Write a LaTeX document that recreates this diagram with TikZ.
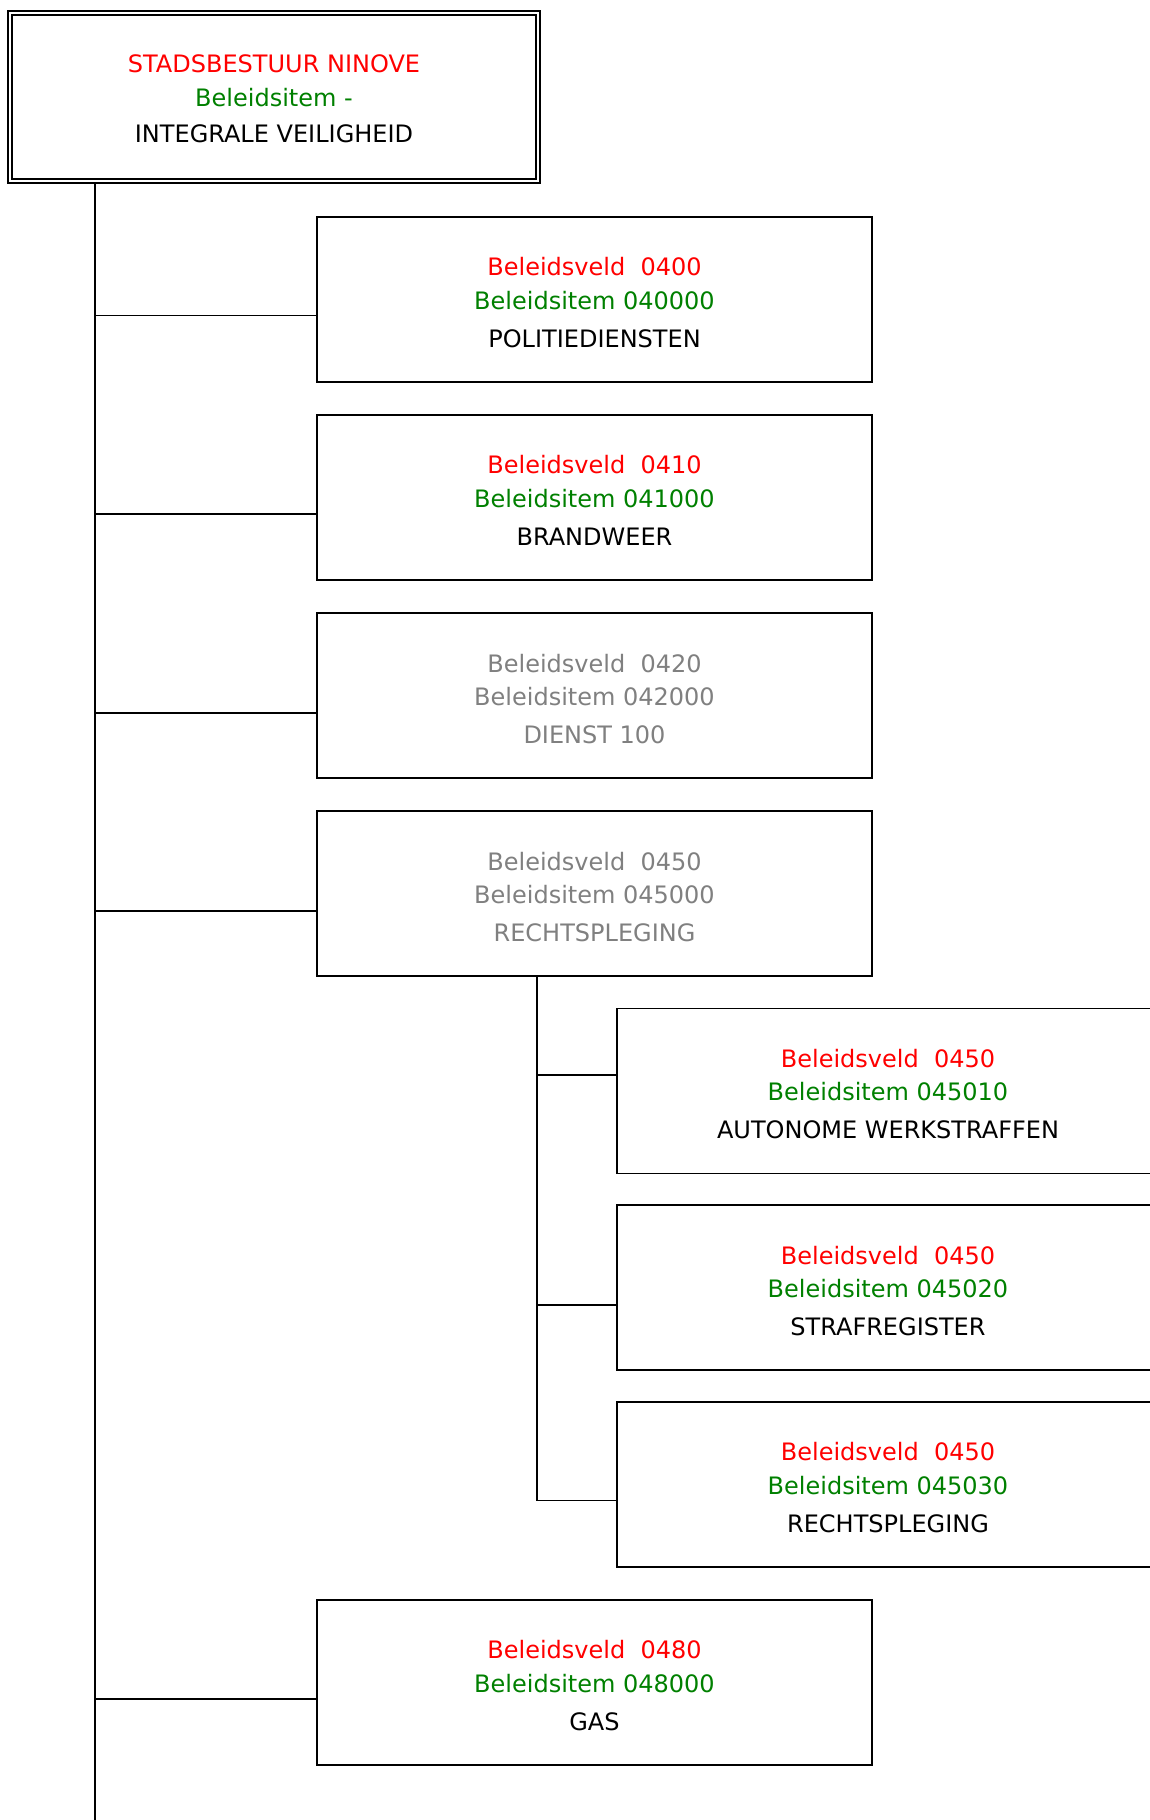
\documentclass[tikz,border=0pt]{standalone}
\usepackage{fontspec}
\newfontfamily\orgfont{DejaVu Sans}

\definecolor{veldred}{RGB}{255,0,0}
\definecolor{itemgreen}{RGB}{0,128,0}
\definecolor{offgray}{RGB}{128,128,128}

% three lines of a box
\newcommand{\Veld}[3]{\rule{0pt}{24.5pt}\textcolor{veldred}{Beleidsveld~~#1}\\ \textcolor{itemgreen}{Beleidsitem #2}\\[4.5pt] #3}
\newcommand{\VeldOff}[3]{\rule{0pt}{24.5pt}Beleidsveld~~#1\\ Beleidsitem #2\\[4.5pt] #3}

\begin{document}
\begin{tikzpicture}[x=1pt, y=-1pt,
  orgbox/.style  = {draw, rectangle, line width=1.8pt, minimum width=555pt,
                    minimum height=165pt, inner sep=0pt, outer sep=0pt,
                    align=center, font=\orgfont\fontsize{24}{33.5}\selectfont},
  subbox/.style  = {orgbox, minimum width=542pt},
  offbox/.style  = {orgbox, text=offgray},
  rootbox/.style = {orgbox, double, line width=2pt, double distance=2pt,
                    minimum width=528pt, minimum height=168pt},
  link/.style    = {line width=1.8pt}]

\useasboundingbox (0,0) rectangle (1149,1820);

% root
\node[rootbox] (root) at (274, 97)
  {\rule{0pt}{22pt}\textcolor{veldred}{STADSBESTUUR NINOVE}\\ \textcolor{itemgreen}{Beleidsitem -}\\[3pt] INTEGRALE VEILIGHEID};

% level 1
\node[orgbox] (b400) at (594.5, 299.5) {\Veld{0400}{040000}{POLITIEDIENSTEN}};
\node[orgbox] (b410) at (594.5, 497.3) {\Veld{0410}{041000}{BRANDWEER}};
\node[offbox] (b420) at (594.5, 695.8) {\VeldOff{0420}{042000}{DIENST 100}};
\node[offbox] (b450) at (594.5, 893.7) {\VeldOff{0450}{045000}{RECHTSPLEGING}};
\node[orgbox] (b480) at (594.5, 1682.3) {\Veld{0480}{048000}{GAS}};

% level 2
\node[subbox] (s010) at (888, 1091) {\Veld{0450}{045010}{AUTONOME WERKSTRAFFEN}};
\node[subbox] (s020) at (888, 1287.7) {\Veld{0450}{045020}{STRAFREGISTER}};
\node[subbox] (s030) at (888, 1484.4) {\Veld{0450}{045030}{RECHTSPLEGING}};

% connector ends
\coordinate (c400) at ([yshift=-16pt]b400.west);
\coordinate (c410) at ([yshift=-17pt]b410.west);
\coordinate (c420) at ([yshift=-17pt]b420.west);
\coordinate (c450) at ([yshift=-17pt]b450.west);
\coordinate (c480) at ([yshift=-17pt]b480.west);
\coordinate (c010) at ([yshift=16pt]s010.west);
\coordinate (c020) at ([yshift=-17pt]s020.west);
\coordinate (c030) at ([yshift=-16pt]s030.west);

% trunk
\coordinate (trunk) at (95, 183);
\coordinate (trunkend) at (95, 1820);
\draw[link] (trunk) -- (trunkend);

\draw[link] (trunk |- c400) -- (c400);
\draw[link] (trunk |- c410) -- (c410);
\draw[link] (trunk |- c420) -- (c420);
\draw[link] (trunk |- c450) -- (c450);
\draw[link] (trunk |- c480) -- (c480);

% branch under 0450
\coordinate (branch) at (537, 976);
\draw[link] (branch) |- (c030);
\draw[link] (branch |- c010) -- (c010);
\draw[link] (branch |- c020) -- (c020);

\end{tikzpicture}
\end{document}
